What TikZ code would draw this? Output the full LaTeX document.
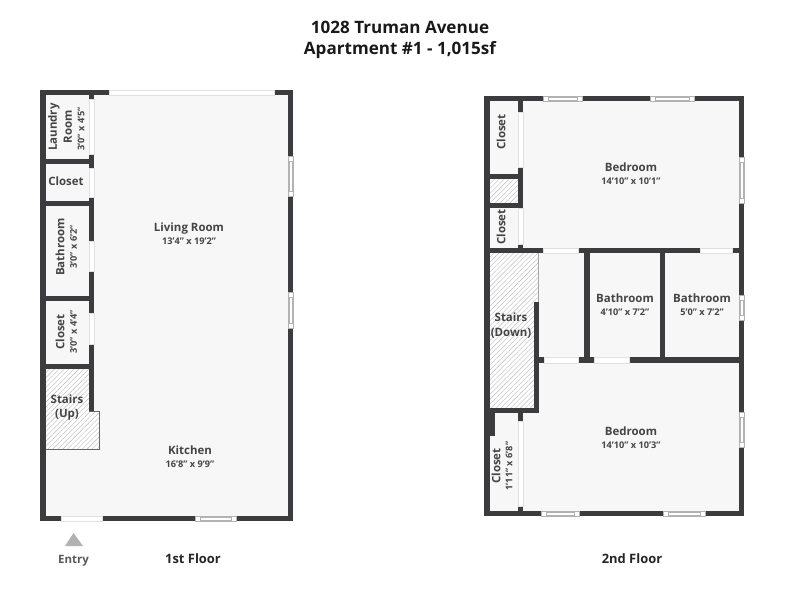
\documentclass[tikz,border=0pt]{standalone}
\usepackage{fontspec}
\setmainfont{Open Sans}
\usetikzlibrary{patterns.meta}
\definecolor{wallgray}{HTML}{3C3C3E}
\definecolor{floorgray}{HTML}{F7F7F7}
\definecolor{labelgray}{HTML}{454545}
\tikzset{
  wall/.style={fill=wallgray},
  floorpart/.style={fill=floorgray},
  doorgap/.style={fill=white, draw=black!12, line width=.3pt},
  winframe/.style={fill=white, draw=black!30, line width=.3pt},
  hatched/.style={pattern={Lines[angle=45,distance=2.6pt,line width=.3pt]}, pattern color=black!28},
  room/.style={text=labelgray, font=\fontsize{8.6}{11.2}\selectfont\bfseries, align=center, inner sep=0pt},
  dims/.style={text=labelgray, font=\fontsize{6.9}{8}\selectfont\bfseries, inner sep=0pt},
  title/.style={text=black!90, font=\fontsize{12.8}{16}\selectfont\bfseries, inner sep=0pt},
  floorname/.style={text=black!85, font=\fontsize{9.7}{12}\selectfont\bfseries, inner sep=0pt}
}
\begin{document}
\begin{tikzpicture}[x=.75pt, y=-.75pt]
  \useasboundingbox (0,0) rectangle (800,600);

  % floors
  \fill[floorpart] (40,90) rectangle (293,521);
  \fill[floorpart] (484,96) rectangle (744,516);

  % stairs first floor
  \fill[white] (46,369) -- (89,369) -- (89,411) -- (99,411) -- (99,449) -- (46,449) -- cycle;
  \fill[hatched] (46,369) -- (89,369) -- (89,411) -- (99,411) -- (99,449) -- (46,449) -- cycle;
  \draw[black!60, line width=.5pt] (89,411) -- (99,411) -- (99,449) -- (46,449);

  % stairs second floor
  \fill[white] (489,179) rectangle (518,203);
  \fill[hatched] (489,179) rectangle (518,203);
  \fill[white] (489,252) rectangle (538,408);
  \fill[hatched] (489,252) rectangle (538,408);
  \draw[black!35, line width=.3pt] (538,252) -- (538,302);

  % walls first floor
  \foreach \xa/\ya/\xb/\yb in {40/90/293/95, 40/90/46/521, 288/90/293/521, 40/516/293/521,
      89/90/94/411, 46/159/94/164, 46/201/94/206, 46/296/94/301, 46/364/94/369}
    \fill[wall] (\xa,\ya) rectangle (\xb,\yb);

  % walls second floor
  \foreach \xa/\ya/\xb/\yb in {484/96/744/101, 484/96/490/516, 739/96/744/516, 484/511/744/516,
      518/96/523/252, 490/174/523/179, 490/203/523/208, 490/248/739/253,
      534/302/539/413, 490/408/539/413, 490/413/495/436, 518/413/523/421, 518/506/523/511,
      584/253/590/358, 660/253/665/358, 539/357/739/363}
    \fill[wall] (\xa,\ya) rectangle (\xb,\yb);

  % door openings first floor
  \foreach \xa/\ya/\xb/\yb in {89/99/94/154, 89/168/94/197, 89/241/94/271, 89/313/94/344, 61/516/102/521}
    \draw[doorgap] (\xa,\ya) rectangle (\xb,\yb);

  % door openings second floor
  \foreach \xa/\ya/\xb/\yb in {518/112/523/167, 518/208/523/244, 518/421/523/506,
      543/248/578/253, 700/248/732/253, 544/357/578/363, 594/357/629/363}
    \draw[doorgap] (\xa,\ya) rectangle (\xb,\yb);

  % long window over the living room
  \draw[doorgap] (109,90) rectangle (274,95);

  % windows along a horizontal wall
  \foreach \xa/\ya/\xb/\yb in {195/516/236/521, 543/96/582/101, 650/96/694/101, 541/511/579/516, 663/511/705/516} {
    \draw[winframe] (\xa,\ya) rectangle (\xb,\yb);
    \draw[winframe] (\xa+5,\ya+1) rectangle (\xb-5,\yb-1);
  }

  % windows along a vertical wall
  \foreach \xa/\ya/\xb/\yb in {288/156/293/196, 288/292/293/328, 739/157/744/203, 739/295/744/320, 739/412/744/447} {
    \draw[winframe] (\xa,\ya) rectangle (\xb,\yb);
    \draw[winframe] (\xa+1,\ya+5) rectangle (\xb-1,\yb-5);
  }

  % titles
  \node[title] (titleaddr) at (400,27.5) {1028 Truman Avenue};
  \node[title] (titleapt) at (400,50.5) {Apartment \#1 - 1,015sf};
  \node[floorname] (floorone) at (193,559) {1st Floor};
  \node[floorname] (floortwo) at (632,559) {2nd Floor};

  % entry marker
  \fill[black!30] (65,546) -- (73.5,533) -- (83,546) -- cycle;
  \node[text=black!65, font=\fontsize{8.6}{11}\selectfont\bfseries, inner sep=0pt] (entry) at (73.5,561) {Entry};

  % labels first floor
  \node[room, rotate=90] (laundry) at (60,127) {Laundry\\Room};
  \node[dims, rotate=90] (laundrydim) at (81,129) {3'0" x 4'5"};
  \node[room] (closeta) at (66,181) {Closet};
  \node[room, rotate=90] (batha) at (60,247) {Bathroom};
  \node[dims, rotate=90] (bathadim) at (73.5,247) {3'0" x 6'2"};
  \node[room, rotate=90] (closetb) at (60,332) {Closet};
  \node[dims, rotate=90] (closetbdim) at (73.5,332) {3'0" x 4'4"};
  \node[room] (stairsup) at (67,407.5) {Stairs\\(Up)};
  \node[room] (living) at (189,229) {Living Room};
  \node[dims] (livingdim) at (189,241) {13'4" x 19'2"};
  \node[room] (kitchen) at (190,450) {Kitchen};
  \node[dims] (kitchendim) at (190,464) {16'8" x 9'9"};

  % labels second floor
  \node[room] (bedtop) at (631,167) {Bedroom};
  \node[dims] (bedtopdim) at (631,181) {14'10" x 10'1"};
  \node[room, rotate=90] (closetc) at (501,132) {Closet};
  \node[room, rotate=90] (closetd) at (501,227) {Closet};
  \node[room] (stairsdown) at (511,326) {Stairs\\(Down)};
  \node[room] (bathb) at (625,298) {Bathroom};
  \node[dims] (bathbdim) at (625,312) {4'10" x 7'2"};
  \node[room] (bathc) at (702,298) {Bathroom};
  \node[dims] (bathcdim) at (702,312) {5'0" x 7'2"};
  \node[room] (bedlow) at (631,431) {Bedroom};
  \node[dims] (bedlowdim) at (631,445) {14'10" x 10'3"};
  \node[room, rotate=90] (closete) at (496,466) {Closet};
  \node[dims, rotate=90] (closetedim) at (509,466) {1'11" x 6'8"};
\end{tikzpicture}
\end{document}
